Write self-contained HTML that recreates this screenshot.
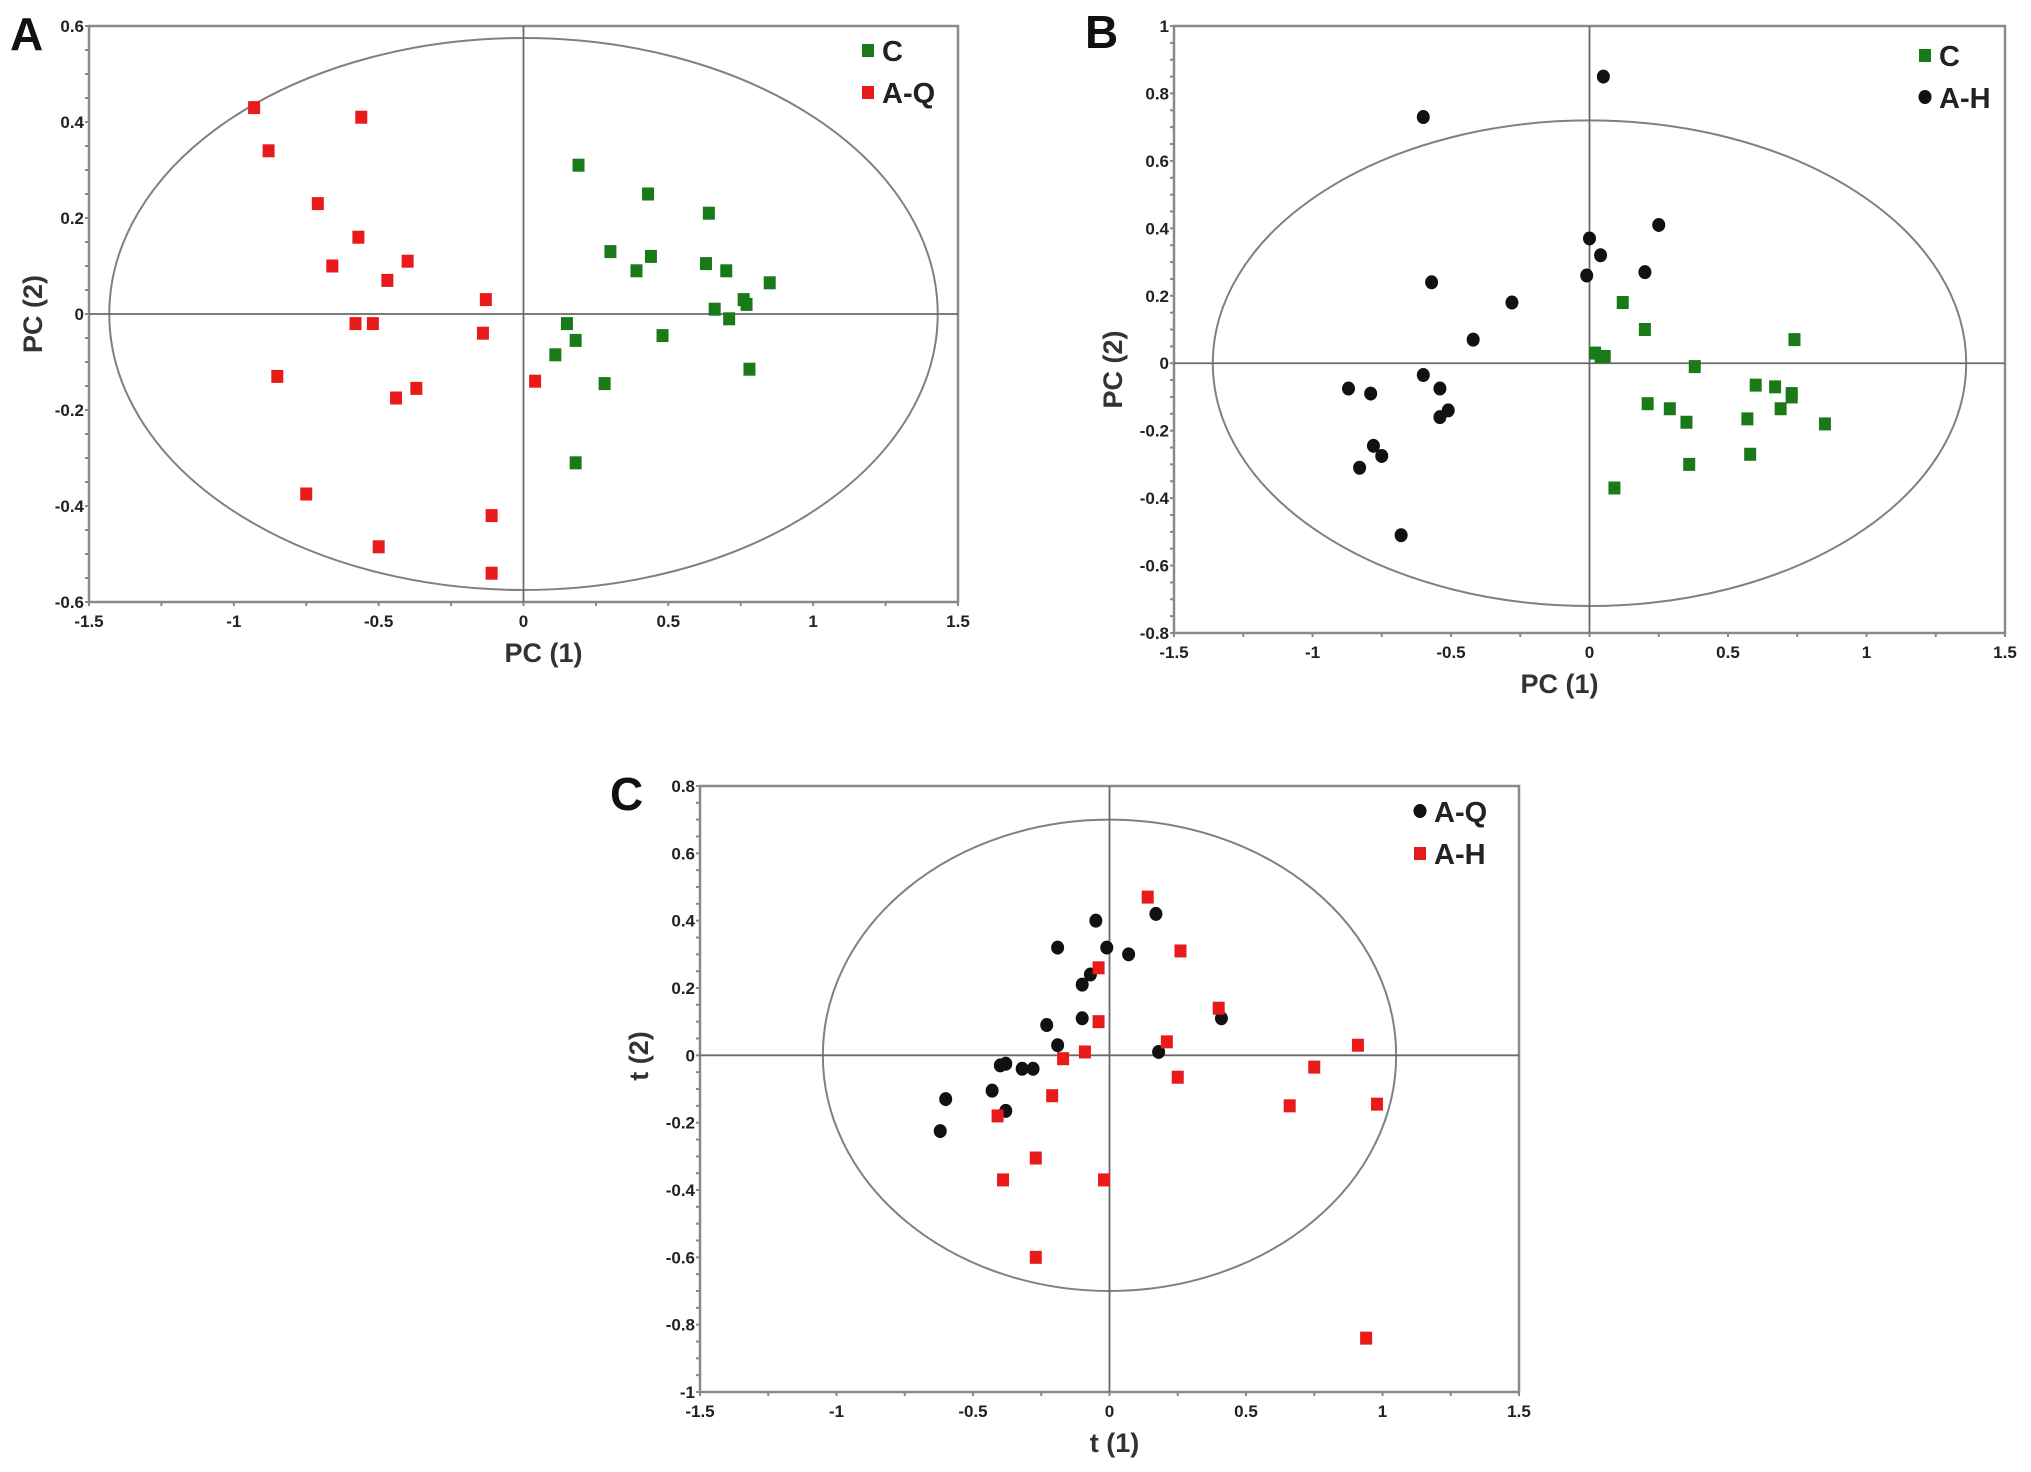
<!DOCTYPE html>
<html><head><meta charset="utf-8"><style>
html,body{margin:0;padding:0;background:#fff;}
svg{display:block;font-family:"Liberation Sans",sans-serif;}
</style></head><body>
<svg id="fig" width="2031" height="1472" viewBox="0 0 2031 1472" xmlns="http://www.w3.org/2000/svg"></svg>
<script>
// Panel A data
const aCx = [0.19,0.43,0.64,0.30,0.44,0.39,0.63,0.70,0.85,0.76,0.77,0.66,0.71,0.15,0.18,0.48,0.11,0.78,0.28,0.18];
const aCy = [0.31,0.25,0.21,0.13,0.12,0.09,0.105,0.09,0.065,0.03,0.02,0.01,-0.01,-0.02,-0.055,-0.045,-0.085,-0.115,-0.145,-0.31];
const aQx = [-0.93,-0.56,-0.88,-0.71,-0.57,-0.66,-0.40,-0.47,-0.13,-0.58,-0.52,-0.14,-0.85,-0.44,-0.37,0.04,-0.75,-0.11,-0.50,-0.11];
const aQy = [0.43,0.41,0.34,0.23,0.16,0.10,0.11,0.07,0.03,-0.02,-0.02,-0.04,-0.13,-0.175,-0.155,-0.14,-0.375,-0.42,-0.485,-0.54];
// Panel B data
const bCx = [0.12,0.20,0.74,0.02,0.04,0.055,0.38,0.60,0.67,0.73,0.73,0.21,0.29,0.69,0.35,0.57,0.85,0.58,0.36,0.09];
const bCy = [0.18,0.10,0.07,0.03,0.02,0.02,-0.01,-0.065,-0.07,-0.09,-0.10,-0.12,-0.135,-0.135,-0.175,-0.165,-0.18,-0.27,-0.30,-0.37];
const bHx = [0.05,-0.60,0.25,0.00,0.04,-0.01,0.20,-0.57,-0.28,-0.42,-0.60,-0.54,-0.87,-0.79,-0.51,-0.54,-0.78,-0.75,-0.83,-0.68];
const bHy = [0.85,0.73,0.41,0.37,0.32,0.26,0.27,0.24,0.18,0.07,-0.035,-0.075,-0.075,-0.09,-0.14,-0.16,-0.245,-0.275,-0.31,-0.51];
// Panel C data
const cQx = [-0.05,0.17,-0.19,-0.01,0.07,-0.07,-0.10,-0.10,-0.23,-0.19,0.41,0.18,-0.40,-0.38,-0.32,-0.28,-0.43,-0.60,-0.38,-0.62];
const cQy = [0.40,0.42,0.32,0.32,0.30,0.24,0.21,0.11,0.09,0.03,0.11,0.01,-0.03,-0.025,-0.04,-0.04,-0.105,-0.13,-0.165,-0.225];
const cHx = [0.14,0.26,-0.04,0.40,-0.04,0.21,0.91,-0.09,-0.17,0.75,0.25,-0.21,0.66,0.98,-0.41,-0.27,-0.39,-0.02,-0.27,0.94];
const cHy = [0.47,0.31,0.26,0.14,0.10,0.04,0.03,0.01,-0.01,-0.035,-0.065,-0.12,-0.15,-0.145,-0.18,-0.305,-0.37,-0.37,-0.60,-0.84];
// Tick values
const xTicks = [-1.5,-1,-0.5,0,0.5,1,1.5];
const aYTicks = [-0.6,-0.4,-0.2,0,0.2,0.4,0.6];
const bYTicks = [-0.8,-0.6,-0.4,-0.2,0,0.2,0.4,0.6,0.8,1];
const cYTicks = [-1,-0.8,-0.6,-0.4,-0.2,0,0.2,0.4,0.6,0.8];

const NS="http://www.w3.org/2000/svg";
const svg=document.getElementById('fig');
function mk(tag,attrs,parent,text){
  const e=document.createElementNS(NS,tag);
  for(const k in attrs)e.setAttribute(k,attrs[k]);
  if(text!==undefined)e.textContent=text;
  (parent||svg).appendChild(e);return e;
}
function fmt(v){return String(Math.round(v*10)/10);}

function panel(o){
  const g=mk('g',{});
  
  
  const X=v=>o.L+(v-o.xmin)/(o.xmax-o.xmin)*(o.R-o.L);
  const Y=v=>o.B-(v-o.ymin)/(o.ymax-o.ymin)*(o.B-o.T);
  const fr=mk('rect',{x:o.L,y:o.T,width:o.R-o.L,height:o.B-o.T,fill:'none',stroke:'#8a8a8a','stroke-width':2.5},g);
  
  
  const el=mk('ellipse',{cx:X(0),cy:Y(0),rx:X(o.ex)-X(0),ry:Y(0)-Y(o.ey),fill:'none',stroke:'#808080','stroke-width':2},g);
  
  
  const zx=mk('line',{x1:X(0),x2:X(0),y1:o.T,y2:o.B,stroke:'#6a6a6a','stroke-width':1.8},g);
  
  
  const zy=mk('line',{x1:o.L,x2:o.R,y1:Y(0),y2:Y(0),stroke:'#6a6a6a','stroke-width':1.8},g);
  
  
  for(let v=o.xmin;v<=o.xmax+1e-9;v+=0.25){
    mk('line',{x1:X(v),x2:X(v),y1:o.B,y2:o.B+4,stroke:'#888','stroke-width':2},g);
  }
  xTicks.forEach(v=>{
    const t=mk('text',{x:X(v),y:o.B+25,'text-anchor':'middle','font-size':17,'font-weight':'bold',fill:'#222'},g,fmt(v));
    
    
  });
  const minor=o.yStep/4;
  for(let v=o.ymin;v<=o.ymax+1e-9;v+=minor){
    mk('line',{x1:o.L-4,x2:o.L,y1:Y(v),y2:Y(v),stroke:'#888','stroke-width':2},g);
  }
  o.yTicks.forEach(v=>{
    const t=mk('text',{x:o.L-5,y:Y(v)+6,'text-anchor':'end','font-size':17,'font-weight':'bold',fill:'#222'},g,fmt(v));
    
    
  });
  const xt=mk('text',{x:(o.L+o.R)/2+o.xtOff,y:o.B+60,'text-anchor':'middle','font-size':27,'font-weight':'bold',fill:'#333'},g,o.xt);
  
  
  const yc=(o.T+o.B)/2+o.ytOff;
  const yt=mk('text',{x:o.ytX,y:yc,'text-anchor':'middle','font-size':27,'font-weight':'bold',fill:'#333',transform:`rotate(-90 ${o.ytX} ${yc})`},g,o.yt);
  
  
  const pl=mk('text',{x:o.lx,y:o.ly,'font-size':46,'font-weight':'bold',fill:'#111'},g,o.letter);
  
  
  o.series.forEach((s,si)=>{
    s.xs.forEach((xv,i)=>{
      let m;
      if(s.shape==='sq'){
        m=mk('rect',{x:X(xv)-6,y:Y(s.ys[i])-6.5,width:12,height:13,fill:s.color},g);
      }else{
        m=mk('ellipse',{cx:X(xv),cy:Y(s.ys[i]),rx:6.5,ry:7,fill:s.color},g);
      }
      
      
    });
    const ly=o.legY+si*42;
    let lm;
    if(s.shape==='sq') lm=mk('rect',{x:o.legX-6,y:ly-7,width:12,height:13,fill:s.color},g);
    else lm=mk('ellipse',{cx:o.legX,cy:ly-1,rx:6.5,ry:7,fill:s.color},g);
    
    
    const lt=mk('text',{x:o.legX+14,y:ly+10,'font-size':29,'font-weight':'bold',fill:'#222'},g,s.label);
    
    
  });
}

panel({name:'panel-a',letter:'A',lx:10,ly:50,L:89,R:958,T:26,B:602,xmin:-1.5,xmax:1.5,ymin:-0.6,ymax:0.6,yStep:0.2,yTicks:aYTicks,
  ex:1.43,ey:0.575,xt:'PC  (1)',yt:'PC  (2)',xtOff:20,ytOff:0,ytX:42,legX:868,legY:51,
  series:[{key:'c',label:'C',shape:'sq',color:'#1a7a1a',xs:aCx,ys:aCy},{key:'a-q',label:'A-Q',shape:'sq',color:'#e81a1a',xs:aQx,ys:aQy}]});
panel({name:'panel-b',letter:'B',lx:1085,ly:48,L:1174,R:2005,T:26,B:633,xmin:-1.5,xmax:1.5,ymin:-0.8,ymax:1,yStep:0.2,yTicks:bYTicks,
  ex:1.36,ey:0.72,xt:'PC  (1)',yt:'PC  (2)',xtOff:-30,ytOff:40,ytX:1122,legX:1925,legY:56,
  series:[{key:'c',label:'C',shape:'sq',color:'#1a7a1a',xs:bCx,ys:bCy},{key:'a-h',label:'A-H',shape:'circ',color:'#111',xs:bHx,ys:bHy}]});
panel({name:'panel-c',letter:'C',lx:610,ly:810,L:700,R:1519,T:786,B:1392,xmin:-1.5,xmax:1.5,ymin:-1,ymax:0.8,yStep:0.2,yTicks:cYTicks,
  ex:1.05,ey:0.7,xt:'t (1)',yt:'t (2)',xtOff:5,ytOff:-33,ytX:648,legX:1420,legY:812,
  series:[{key:'a-q',label:'A-Q',shape:'circ',color:'#111',xs:cQx,ys:cQy},{key:'a-h',label:'A-H',shape:'sq',color:'#e81a1a',xs:cHx,ys:cHy}]});
</script>
</body></html>
